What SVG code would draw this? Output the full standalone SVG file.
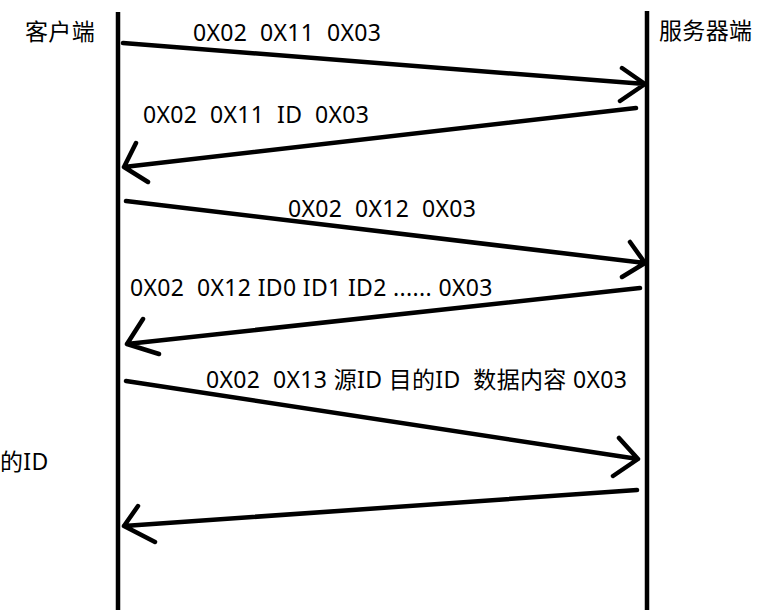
<svg xmlns="http://www.w3.org/2000/svg" width="770" height="610" viewBox="0 0 770 610">
<style>
.t{font-family:"Noto Sans","Noto Sans CJK SC",sans-serif;font-size:23px;fill:#000;white-space:pre;letter-spacing:0.35px}
.life{stroke:#000;stroke-width:4.5;fill:none}
.msg{stroke:#000;stroke-width:4.5;fill:none;stroke-linecap:round;stroke-linejoin:round}
</style>
<rect width="770" height="610" fill="#fff"/>
<g id="client">
<line class="life" x1="118" y1="12" x2="118" y2="610"/>
<text class="t" x="25" y="40">客户端</text>
</g>
<g id="server">
<line class="life" x1="647" y1="11" x2="647" y2="610"/>
<text class="t" x="659" y="39">服务器端</text>
</g>
<g id="note">
<text class="t" x="0" y="470">的ID</text>
</g>
<g id="connectors">
<path class="msg" d="M123,43 L645,84 M622,68 L645,84 L620,101"/>
<path class="msg" d="M636,108 L124,167 M136,143 L124,167 L148,182"/>
<path class="msg" d="M126,201 L645,263 M630,242 L645,263 L622,277"/>
<path class="msg" d="M640,288 L127,344 M143,319 L127,344 L159,354"/>
<path class="msg" d="M126,381 L638,459 M619,438 L638,459 L613,476"/>
<path class="msg" d="M637,490 L124,526 M138,506 L124,526 L155,542"/>
</g>
<g id="labels">
<text class="t" x="193" y="41" xml:space="preserve">0X02  0X11  0X03</text>
<text class="t" x="143" y="123" xml:space="preserve">0X02  0X11  ID  0X03</text>
<text class="t" x="288" y="217" xml:space="preserve">0X02  0X12  0X03</text>
<text class="t" x="130" y="296" xml:space="preserve">0X02  0X12 ID0 ID1 ID2 ...... 0X03</text>
<text class="t" x="206" y="388" xml:space="preserve">0X02  0X13 源ID 目的ID  数据内容 0X03</text>
</g>
</svg>
